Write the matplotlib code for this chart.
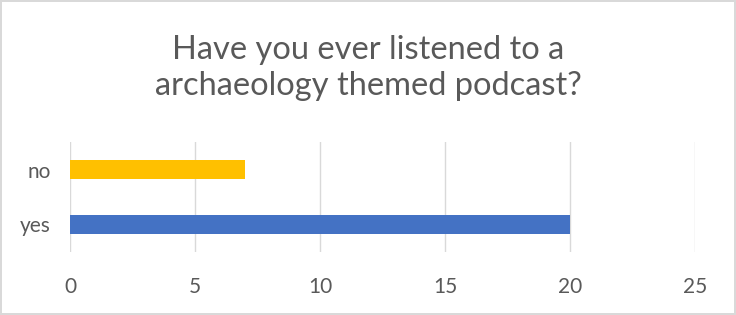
import matplotlib
matplotlib.use("Agg")
import matplotlib.pyplot as plt

categories = ["yes", "no"]
counts = [20, 7]
bar_colors = ["#4472C4", "#FFC000"]
x_ticks = [0, 5, 10, 15, 20, 25]

plt.rcParams['font.family'] = ['Lato', 'DejaVu Sans']

fig = plt.figure(figsize=(7.36, 3.15), dpi=100)
fig.patch.set_edgecolor("#D9D9D9")
fig.patch.set_linewidth(1.5)
ax = fig.add_axes([70 / 736, 1 - 252 / 315, 625 / 736, 110 / 315])

ax.barh(range(len(categories)), counts, height=0.36, color=bar_colors, zorder=3)
ax.set_xlim(0, 25)
ax.set_ylim(-0.5, 1.5)
ax.set_xticks(x_ticks)
ax.set_yticks(range(len(categories)))
ax.set_yticklabels(categories)
ax.grid(axis="x", color="#D9D9D9", linewidth=1, zorder=0)
for s in ax.spines.values():
    s.set_visible(False)
ax.tick_params(length=0, labelsize=15, colors="#595959")
ax.tick_params(axis="x", pad=18)
ax.tick_params(axis="y", pad=14)

fig.text(0.5, 0.784, "Have you ever listened to a\narchaeology themed podcast?",
         ha="center", va="center", fontsize=23.5, color="#595959", linespacing=1.25)

fig.savefig("out.png", dpi=100)
